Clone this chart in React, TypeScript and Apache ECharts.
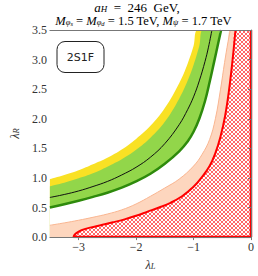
import React, { useEffect, useRef } from "react";
import * as echarts from "echarts";

const X_MIN = -3.5, X_MAX = 0, Y_MIN = 0, Y_MAX = 3.5;
const X_TICKS = [-3, -2, -1, 0];

// boundary curves [lambda_L, lambda_R]
const yellowTop: number[][] = [
  [-3.5, 0.98], [-3.25, 1.05], [-3.0, 1.13], [-2.75, 1.23], [-2.5, 1.34], [-2.25, 1.48],
  [-2.0, 1.66], [-1.75, 1.88], [-1.5, 2.18], [-1.25, 2.6], [-1.1, 2.94], [-1.0, 3.23], [-0.92, 3.5],
];
const greenTop: number[][] = [
  [-3.5, 0.86], [-3.25, 0.92], [-3.0, 0.995], [-2.75, 1.08], [-2.5, 1.19], [-2.25, 1.315],
  [-2.0, 1.475], [-1.75, 1.68], [-1.5, 1.95], [-1.25, 2.34], [-1.1, 2.65], [-1.0, 2.91],
  [-0.9, 3.23], [-0.83, 3.5],
];
const centralLine: number[][] = [
  [-3.5, 0.67], [-3.25, 0.72], [-3.0, 0.78], [-2.75, 0.855], [-2.5, 0.94], [-2.25, 1.05],
  [-2.0, 1.18], [-1.75, 1.35], [-1.5, 1.58], [-1.25, 1.9], [-1.1, 2.16], [-1.0, 2.37],
  [-0.9, 2.64], [-0.8, 2.97], [-0.74, 3.21], [-0.68, 3.5],
];
const greenBottom: number[][] = [
  [-3.5, 0.5], [-3.25, 0.555], [-3.0, 0.615], [-2.75, 0.68], [-2.5, 0.75], [-2.25, 0.835],
  [-2.0, 0.94], [-1.75, 1.07], [-1.5, 1.24], [-1.25, 1.45], [-1.1, 1.62], [-1.0, 1.78],
  [-0.9, 2.0], [-0.8, 2.3], [-0.72, 2.62], [-0.64, 2.97], [-0.57, 3.28], [-0.52, 3.5],
];
const peachTop: number[][] = [
  [-3.5, 0.2], [-3.25, 0.24], [-3.0, 0.285], [-2.75, 0.335], [-2.5, 0.39], [-2.25, 0.46],
  [-2.0, 0.56], [-1.75, 0.69], [-1.5, 0.83], [-1.25, 0.98], [-1.0, 1.2], [-0.85, 1.4],
  [-0.72, 1.65], [-0.62, 2.0], [-0.53, 2.5], [-0.46, 2.95], [-0.4, 3.3], [-0.36, 3.5],
];
const excludedEdge: number[][] = [
  [-3.09, 0.0], [-3.07, 0.04], [-3.02, 0.08], [-2.95, 0.115], [-2.8, 0.16], [-2.6, 0.205],
  [-2.4, 0.25], [-2.2, 0.3], [-2.0, 0.36], [-1.8, 0.43], [-1.6, 0.5], [-1.4, 0.58],
  [-1.2, 0.69], [-1.0, 0.85], [-0.85, 1.02], [-0.72, 1.2], [-0.62, 1.42], [-0.53, 1.7],
  [-0.45, 2.05], [-0.38, 2.5], [-0.32, 3.0], [-0.27, 3.5],
];

const SERIF = "'Liberation Serif', 'DejaVu Serif', serif";

function makeHatch(): HTMLCanvasElement {
  const c = document.createElement("canvas");
  c.width = 4;
  c.height = 4;
  const g = c.getContext("2d")!;
  g.fillStyle = "#ffffff";
  g.fillRect(0, 0, 4, 4);
  g.fillStyle = "#ff6868";
  for (let i = 0; i < 4; i++) {
    g.fillRect(i, i, 1, 1);
    g.fillRect(3 - i, i, 1, 1);
  }
  return c;
}

const closeTop = (pts: number[][]) => [...pts, [X_MAX, Y_MAX]];

function areaSeries(pts: number[][], fill: any, z: number) {
  return {
    type: "line",
    data: closeTop(pts),
    symbol: "none",
    smooth: 0.4,
    lineStyle: { width: 0, opacity: 0 },
    areaStyle: { color: fill, opacity: 1, origin: "start" },
    z,
    silent: true,
  };
}

function edgeSeries(pts: number[][], color: string, width: number, z: number) {
  return {
    type: "line",
    data: pts,
    symbol: "none",
    smooth: 0.4,
    lineStyle: { color, width },
    z,
    silent: true,
  };
}

export default function App() {
  const ref = useRef<HTMLDivElement>(null);
  useEffect(() => {
    document.body.style.margin = "0";
    const chart = echarts.init(ref.current!, undefined, { renderer: "svg" });
    const hatch = makeHatch();
    const richMath = {
      r: { fontFamily: SERIF, fontSize: 12.5, color: "#333", lineHeight: 12 },
      i: { fontFamily: SERIF, fontSize: 12.5, fontStyle: "italic", color: "#333", lineHeight: 12 },
      s: { fontFamily: SERIF, fontSize: 8.5, fontStyle: "italic", color: "#333", lineHeight: 8, verticalAlign: "bottom" },
      ss: { fontFamily: SERIF, fontSize: 6.5, fontStyle: "italic", color: "#333", lineHeight: 6, verticalAlign: "bottom" },
    };
    const richTitle1 = {
      r: { fontFamily: SERIF, fontSize: 13, color: "#333", lineHeight: 13 },
      i: { fontFamily: SERIF, fontSize: 13, fontStyle: "italic", color: "#333", lineHeight: 13 },
      s: { fontFamily: SERIF, fontSize: 9, fontStyle: "italic", color: "#333", lineHeight: 8, verticalAlign: "bottom" },
    };
    const option: any = {
      animation: false,
      grid: { left: 36, right: 7, top: 30, bottom: 34, show: false },
      xAxis: [
        {
          type: "value", min: X_MIN, max: X_MAX, z: 10,
          name: "{i|λ}{s|L}", nameLocation: "middle", nameGap: 17,
          nameTextStyle: { rich: richMath },
          axisLine: { show: true, lineStyle: { color: "#777", width: 1 } },
          axisTick: { show: true, length: 3, inside: false, customValues: X_TICKS, lineStyle: { color: "#777" } },
          axisLabel: {
            customValues: X_TICKS, fontFamily: SERIF, fontSize: 12, color: "#333", margin: 4,
            formatter: (v: number) => (v < 0 ? "\u2212" + Math.abs(v) : "0"),
          },
          splitLine: { show: false },
        },
        {
          type: "value", min: X_MIN, max: X_MAX, position: "top", z: 10,
          axisLine: { show: true, lineStyle: { color: "#777", width: 1 } },
          axisTick: { show: false }, axisLabel: { show: false }, splitLine: { show: false },
        },
      ],
      yAxis: [
        {
          type: "value", min: Y_MIN, max: Y_MAX, interval: 0.5, z: 10,
          name: "{i|λ}{s|R}", nameLocation: "middle", nameGap: 25,
          nameTextStyle: { rich: richMath },
          axisLine: { show: true, lineStyle: { color: "#777", width: 1 } },
          axisTick: { show: true, length: 3, inside: false, lineStyle: { color: "#777" } },
          axisLabel: { fontFamily: SERIF, fontSize: 12, color: "#333", margin: 3, formatter: (v: number) => v.toFixed(1) },
          splitLine: { show: false },
        },
      ],
      graphic: [
        {
          type: "text", x: 137, y: 0.5, z: 100,
          style: { text: "{i|a}{s|H}{r|\u2002=\u2002246\u2002GeV,}", rich: richTitle1, align: "center", verticalAlign: "top" },
        },
        {
          type: "text", x: 143.5, y: 14.5, z: 100,
          style: {
            text: "{i|M}{s|φ}{ss|s}{r| = }{i|M}{s|φ}{ss|d}{r| = 1.5 TeV, }{i|M}{s|ψ}{r| = 1.7 TeV}",
            rich: richMath, align: "center", verticalAlign: "top",
          },
        },
        {
          type: "rect", z: 100,
          shape: { x: 57, y: 41.5, width: 47, height: 31, r: 8 },
          style: { fill: "#fff", stroke: "#222", lineWidth: 1 },
        },
        {
          type: "text", x: 80.5, y: 57, z: 101,
          style: { text: "2S1F", font: "11px 'DejaVu Sans', sans-serif", fill: "#222", align: "center", verticalAlign: "middle" },
        },
      ],
      series: [
        areaSeries(yellowTop, "#F9E124", 2),
        areaSeries(greenTop, "#92D64A", 3),
        areaSeries(greenBottom, "#ffffff", 4),
        areaSeries(peachTop, "#FDD6BE", 5),
        areaSeries(excludedEdge, { image: hatch, repeat: "repeat" }, 6),
        edgeSeries(greenBottom, "#2E8A0C", 2.5, 7),
        edgeSeries(peachTop, "#F9B590", 1, 7),
        edgeSeries(excludedEdge, "#ff0000", 2, 8),
        {
          type: "line",
          data: [excludedEdge[0], [X_MAX, Y_MIN], [X_MAX, Y_MAX]],
          symbol: "none", lineStyle: { color: "#ff0000", width: 2.5 }, z: 8, silent: true,
        },
        edgeSeries(centralLine, "#111", 1, 9),
      ],
    };
    chart.setOption(option);
    return () => chart.dispose();
  }, []);
  return <div ref={ref} style={{ width: 258, height: 276 }} />;
}
